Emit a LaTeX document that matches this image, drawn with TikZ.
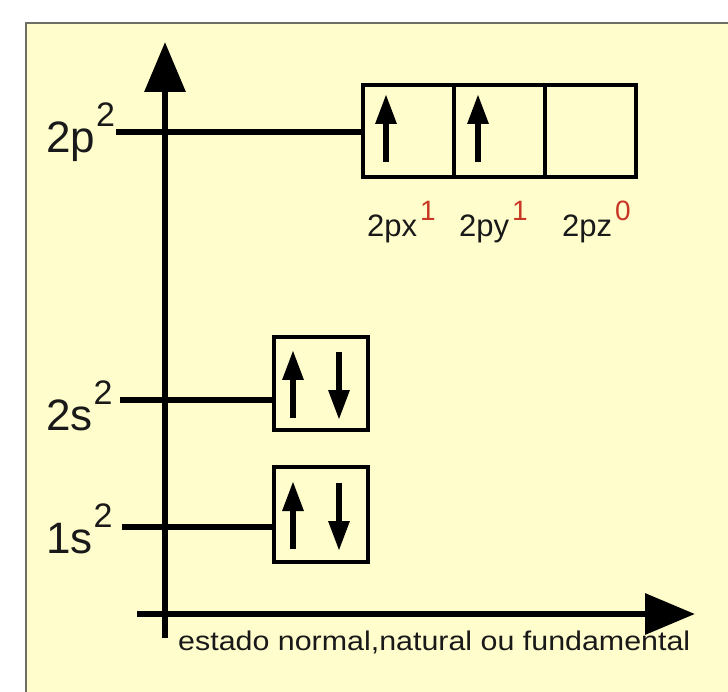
\documentclass[tikz,border=0pt]{standalone}
\usepackage{fontspec}
\usepackage{graphicx}
\setmainfont{Liberation Sans}
\usetikzlibrary{arrows.meta}
\definecolor{bgyellow}{RGB}{255,253,204}
\definecolor{framecol}{RGB}{110,110,100}
\definecolor{txt}{RGB}{25,25,25}
\definecolor{supred}{RGB}{200,55,35}
\tikzset{
  axisline/.style={line width=6.5pt, draw=black, -{Triangle[length=50pt,width=40pt]}},
  levelline/.style={line width=6.5pt, draw=black},
  orbbox/.style={draw=black, line width=4.5pt, inner sep=0pt, minimum width=91pt, minimum height=92pt},
  spin/.style={line width=6pt, draw=black, -{Triangle[length=30pt,width=20pt]}, shorten >=-2pt},
  lvl/.style={anchor=base west, inner sep=0pt, text=txt, font=\fontsize{44}{45}\selectfont},
  sub/.style={anchor=base west, inner sep=0pt, text=txt, font=\fontsize{31}{32}\selectfont},
  bottomlabel/.style={anchor=base west, inner sep=0pt, text=txt, font=\fontsize{27}{28}\selectfont}
}
\newcommand{\levsup}[1]{\hspace{1pt}\raisebox{26pt}{\fontsize{34}{34}\selectfont #1}}
\newcommand{\redsup}[1]{\hspace{3pt}\raisebox{16pt}{\fontsize{28}{28}\selectfont\color{supred}#1}}
\begin{document}
\begin{tikzpicture}[x=1pt,y=-1pt]
\useasboundingbox (0,0) rectangle (728,692);
\fill[white] (0,0) rectangle (728,692);
\fill[bgyellow] (26,23) rectangle (728,692);
\draw[framecol, line width=2.5pt] (26,692) -- (26,23) -- (728,23);

% axes
\coordinate (ybot) at (165,638);
\coordinate (ytop) at (165,42);
\coordinate (xleft) at (137,614);
\coordinate (xright) at (695,614);
\draw[axisline] (ybot) -- (ytop);
\draw[axisline] (xleft) -- (xright);

% orbital boxes
\node[orbbox] (px) at (408.5,131) {};
\node[orbbox] (py) at (499.5,131) {};
\node[orbbox] (pz) at (590.5,131) {};
\node[orbbox, minimum width=94pt, minimum height=93pt] (b2s) at (321,383.5) {};
\node[orbbox, minimum width=94pt, minimum height=95pt] (b1s) at (321,514.5) {};

% level lines
\coordinate (l2p) at (116,132);
\coordinate (l2s) at (120,400);
\coordinate (l1s) at (122,527);
\draw[levelline] (l2p) -- (l2p -| px.west);
\draw[levelline] (l2s) -- (l2s -| b2s.west);
\draw[levelline] (l1s) -- (l1s -| b1s.west);

% level labels
\node[lvl] (t2p) at (46,153) {2p\levsup{2}};
\node[lvl] (t2s) at (46,430) {2s\levsup{2}};
\node[lvl] (t1s) at (46,553) {1s\levsup{2}};

% spins
\draw[spin] (386,162) -- (386,96);
\draw[spin] (478,162) -- (478,96);
\draw[spin] (293,418) -- (293,352);
\draw[spin] (339,352) -- (339,418);
\draw[spin] (293,549) -- (293,483);
\draw[spin] (339,483) -- (339,549);

% sublevel labels
\node[sub] (tpx) at (367,237) {2px\redsup{1}};
\node[sub] (tpy) at (459,237) {2py\redsup{1}};
\node[sub] (tpz) at (562,237) {2pz\redsup{0}};

% bottom label
\node[bottomlabel] (bot) at (178,650) {\scalebox{1.126}[1]{estado normal,natural ou fundamental}};
\end{tikzpicture}
\end{document}
